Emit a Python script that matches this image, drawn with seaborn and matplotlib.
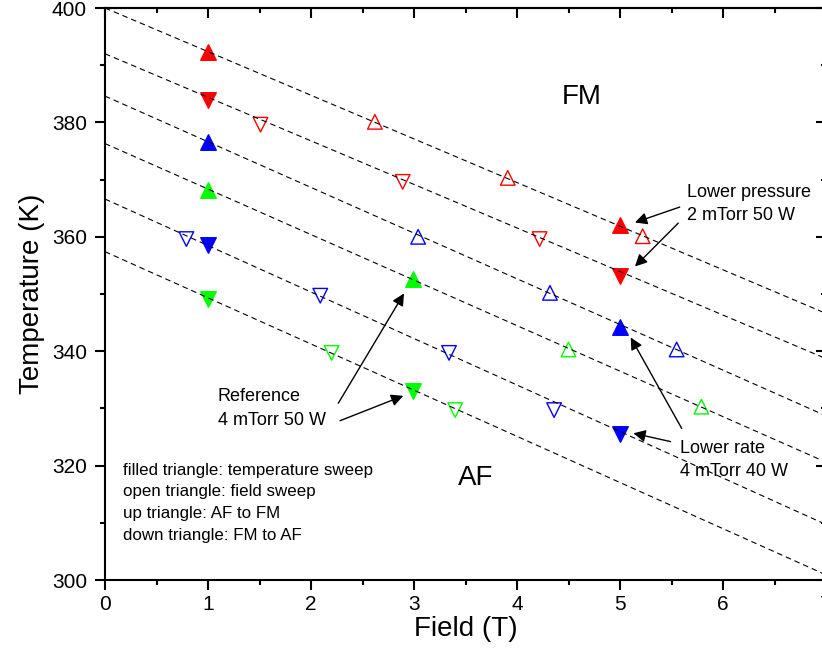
import numpy as np
import pandas as pd
import matplotlib
matplotlib.use("Agg")
import matplotlib.pyplot as plt
from matplotlib.ticker import MultipleLocator
import seaborn as sns

# ------------------------------- data ----------------------------------
# ts = temperature sweep (filled), fs = field sweep (open)
red_ts_up_x = [1.00, 5.00]
red_ts_up_y = [392.3, 362.1]
red_ts_down_x = [1.00, 5.00]
red_ts_down_y = [383.9, 353.1]
red_fs_up_x = [2.62, 3.91, 5.22]
red_fs_up_y = [380.1, 370.3, 360.1]
red_fs_down_x = [1.51, 2.89, 4.22]
red_fs_down_y = [379.6, 369.6, 359.6]

blue_ts_up_x = [1.00, 5.00]
blue_ts_up_y = [376.6, 344.3]
blue_ts_down_x = [1.00, 5.00]
blue_ts_down_y = [358.6, 325.6]
blue_fs_up_x = [3.04, 4.32, 5.55]
blue_fs_up_y = [360.0, 350.2, 340.3]
blue_fs_down_x = [0.79, 2.09, 3.34, 4.36]
blue_fs_down_y = [359.6, 349.7, 339.7, 329.7]

green_ts_up_x = [1.00, 2.99]
green_ts_up_y = [368.1, 352.6]
green_ts_down_x = [1.00, 2.99]
green_ts_down_y = [349.2, 333.1]
green_fs_up_x = [4.50, 5.79]
green_fs_up_y = [340.3, 330.3]
green_fs_down_x = [2.20, 3.40]
green_fs_down_y = [339.7, 329.7]

# dashed phase boundaries: T at 0 T and at 7 T
boundary_field = [0.0, 7.0]
boundary_start = [400.0, 392.0, 384.6, 376.3, 366.6, 357.4]
boundary_end = [346.6, 338.7, 328.7, 320.6, 309.7, 300.9]

legend_lines = [
    "filled triangle: temperature sweep",
    "open triangle: field sweep",
    "up triangle: AF to FM",
    "down triangle: FM to AF",
]

COLORS = {"red": "#FF0000", "blue": "#0000FF", "green": "#00FF00"}

# --------------------------- helpers -----------------------------------
def _series_table():
    g = globals()
    rows = []
    for col in ("red", "blue", "green"):
        for sweep in ("ts", "fs"):
            for d in ("up", "down"):
                xs = g[f"{col}_{sweep}_{d}_x"]
                ys = g[f"{col}_{sweep}_{d}_y"]
                for x, y in zip(xs, ys):
                    rows.append({"field": x, "temp": y, "color": col,
                                 "sweep": sweep, "dir": d})
    return pd.DataFrame(rows)


def _boundary_table():
    rows = []
    for i, (t0, t1) in enumerate(zip(boundary_start, boundary_end)):
        for f, t in zip(boundary_field, (t0, t1)):
            rows.append({"line": i, "field": f, "temp": t})
    return pd.DataFrame(rows)


# ------------------------------ plot -----------------------------------
sns.set_style("ticks")
plt.rcParams["font.family"] = ["Liberation Sans", "DejaVu Sans"]
for key in ("text.color", "axes.labelcolor", "xtick.color", "ytick.color",
            "axes.edgecolor"):
    plt.rcParams[key] = "black"

fig = plt.figure(figsize=(8.22, 6.69), dpi=100)
ax = fig.add_axes([105 / 822, 89 / 669, 721 / 822, 572 / 669])

pts = _series_table()
for (col, sweep, d), grp in pts.groupby(["color", "sweep", "dir"]):
    c = COLORS[col]
    filled = sweep == "ts"
    sns.scatterplot(
        data=grp, x="field", y="temp", ax=ax,
        marker="^" if d == "up" else "v",
        s=125 if filled else 110,
        color=c, edgecolor=c,
        facecolor=c if filled else "none",
        linewidth=1.0, zorder=2, legend=False,
    )

lines = _boundary_table()
for i, grp in lines.groupby("line"):
    ax.plot(grp["field"], grp["temp"], color="black", lw=0.8,
            linestyle=(0, (5, 3.5)), zorder=3)

ax.set_xlim(0, 7)
ax.set_ylim(300, 400)
ax.xaxis.set_major_locator(MultipleLocator(1))
ax.xaxis.set_minor_locator(MultipleLocator(0.5))
ax.yaxis.set_major_locator(MultipleLocator(20))
ax.yaxis.set_minor_locator(MultipleLocator(10))
ax.tick_params(which="major", direction="out", length=7, width=1.5,
               labelsize=15)
ax.tick_params(axis="y", which="major", pad=6)
ax.tick_params(axis="x", which="major", pad=4)
ax.tick_params(which="minor", direction="out", length=3.5, width=1.5)
for sp in ax.spines.values():
    sp.set_linewidth(1.5)

# inward ticks on the top and right edges
top = ax.secondary_xaxis("top")
top.xaxis.set_major_locator(MultipleLocator(1))
top.xaxis.set_minor_locator(MultipleLocator(0.5))
top.tick_params(which="major", direction="in", length=7, width=1.5, labeltop=False)
top.tick_params(which="minor", direction="in", length=3.5, width=1.5)
top.spines["top"].set_linewidth(1.5)
right = ax.secondary_yaxis("right")
right.yaxis.set_major_locator(MultipleLocator(20))
right.yaxis.set_minor_locator(MultipleLocator(10))
right.tick_params(which="major", direction="in", length=7, width=1.5, labelright=False)
right.tick_params(which="minor", direction="in", length=3.5, width=1.5)

ax.set_xlabel("Field (T)", fontsize=20, labelpad=1)
ax.set_ylabel("Temperature (K)", fontsize=20, labelpad=5)

ax.text(4.63, 384.4, "FM", fontsize=20, ha="center", va="center")
ax.text(3.60, 317.8, "AF", fontsize=20, ha="center", va="center")

ax.text(0.175, 320.5, "\n".join(legend_lines), fontsize=12.2,
        ha="left", va="top", linespacing=1.55)

arrow = dict(arrowstyle="-|>", color="black", lw=1.0, mutation_scale=18,
             shrinkA=0, shrinkB=0)
note_kw = dict(fontsize=13, ha="left", va="center", linespacing=1.5)
ax.text(5.65, 365.7, "Lower pressure\n2 mTorr 50 W", **note_kw)
ax.annotate("", xy=(5.145, 362.5), xytext=(5.58, 365.2), arrowprops=arrow)
ax.annotate("", xy=(5.145, 354.8), xytext=(5.566, 362.4), arrowprops=arrow)

ax.text(1.097, 330.0, "Reference\n4 mTorr 50 W", **note_kw)
ax.annotate("", xy=(2.903, 350.1), xytext=(2.265, 330.9), arrowprops=arrow)
ax.annotate("", xy=(2.896, 332.2), xytext=(2.282, 327.85), arrowprops=arrow)

ax.text(5.58, 321.0, "Lower rate\n4 mTorr 40 W", **note_kw)
ax.annotate("", xy=(5.104, 342.4), xytext=(5.599, 326.5), arrowprops=arrow)
ax.annotate("", xy=(5.13, 325.65), xytext=(5.49, 324.2), arrowprops=arrow)

fig.savefig("out.png", dpi=100)
